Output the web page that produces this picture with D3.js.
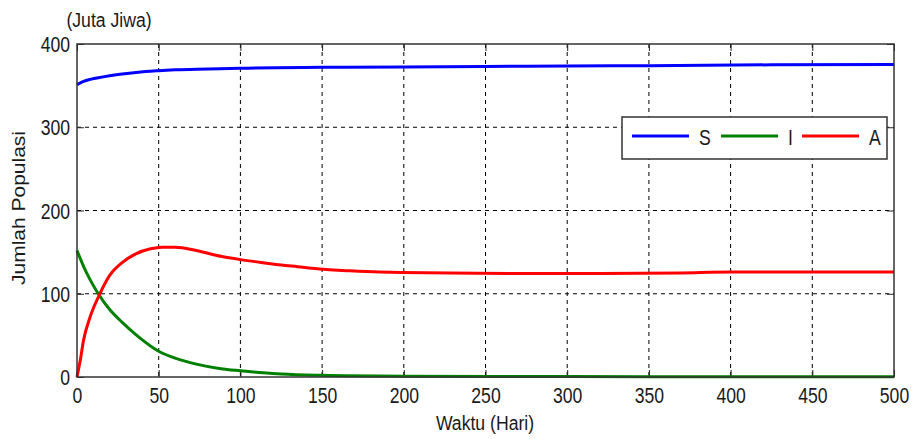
<!DOCTYPE html>
<meta charset="utf-8">
<script src="https://d3js.org/d3.v7.min.js"></script>
<style>
  body { margin: 0; background: #fff; }
  text { font-family: "Liberation Sans", Arial, sans-serif; fill: #1a1a1a; }
</style>
<div id="chart"></div>
<script>

// values (time in days, population in millions)
const sTime = [0, 4, 8, 16, 24, 32, 42, 50, 60, 80, 100, 150, 200, 250, 300, 350, 425, 500];
const sVals = [351, 355, 357.5, 360.5, 363, 365, 367, 368, 369, 370, 371, 372, 372.5, 373, 373.5, 374, 375, 375.5];

const iTime = [0, 4, 8, 13, 20, 28, 36, 50, 61, 73, 88, 100, 114, 125, 150, 200, 300, 400, 500];
const iVals = [152, 133, 117, 100, 81, 65, 51, 31, 22, 15.5, 10, 7.5, 5, 3.5, 2, 1, 0.5, 0.3, 0.2];

const aTime = [0, 2, 4, 8, 14, 20, 28, 36, 45, 52, 60, 73, 88, 100, 115, 125, 135, 147, 167, 185, 245, 320, 370, 400, 500];
const aVals = [0, 20, 44, 72, 100, 122, 138, 148, 154, 156, 156, 152, 145, 141, 137, 134.5, 132.5, 130, 127.5, 126, 124.5, 124.3, 125, 126, 126];

const xTicks = [0, 50, 100, 150, 200, 250, 300, 350, 400, 450, 500];
const yTicks = [0, 100, 200, 300, 400];

const series = [
  {name: "S", time: sTime, vals: sVals, color: "#0000ff"},
  {name: "I", time: iTime, vals: iVals, color: "#008000"},
  {name: "A", time: aTime, vals: aVals, color: "#ff0000"}
];

const W = 912, H = 439;
const margin = {top: 44, right: 18, bottom: 62, left: 77};
const width = W - margin.left - margin.right,
      height = H - margin.top - margin.bottom;

// the picture's text is squeezed sideways
const squeeze = 0.8;

const svg = d3.select("#chart").append("svg")
    .attr("width", W)
    .attr("height", H);

const g = svg.append("g")
    .attr("transform", `translate(${margin.left},${margin.top})`);

const x = d3.scaleLinear().domain([0, 500]).range([0, width]);
const y = d3.scaleLinear().domain([0, 400]).range([height, 0]);

// dashed grid
g.append("g").selectAll("line")
  .data(xTicks.slice(1, -1))
  .join("line")
    .attr("x1", d => x(d)).attr("x2", d => x(d))
    .attr("y1", 0).attr("y2", height)
    .attr("stroke", "#000").attr("stroke-width", 1)
    .attr("stroke-dasharray", "4,4");

g.append("g").selectAll("line")
  .data(yTicks.slice(1, -1))
  .join("line")
    .attr("y1", d => y(d)).attr("y2", d => y(d))
    .attr("x1", 0).attr("x2", width)
    .attr("stroke", "#000").attr("stroke-width", 1)
    .attr("stroke-dasharray", "4,4");

// axes with inward ticks (all four sides)
const tickLen = 7;
const xAxis = g.append("g")
    .attr("transform", `translate(0,${height})`)
    .call(d3.axisBottom(x).tickValues(xTicks).tickSize(-tickLen).tickPadding(10));
const yAxis = g.append("g")
    .call(d3.axisLeft(y).tickValues(yTicks).tickSize(-tickLen).tickPadding(7 / squeeze));
g.append("g")
    .call(d3.axisTop(x).tickValues(xTicks).tickSize(-tickLen).tickFormat(""));
g.append("g")
    .attr("transform", `translate(${width},0)`)
    .call(d3.axisRight(y).tickValues(yTicks).tickSize(-tickLen).tickFormat(""));

g.selectAll(".domain").remove();
g.selectAll(".tick line").attr("stroke", "#222");
xAxis.selectAll("text")
    .style("font-size", "22px").attr("fill", "#1a1a1a")
    .attr("transform", `scale(${squeeze},1)`);
yAxis.selectAll("text")
    .style("font-size", "22px").attr("fill", "#1a1a1a")
    .attr("dy", "0.35em")
    .attr("transform", `scale(${squeeze},1)`);

// the lines
const line = d3.line()
    .x(d => x(d[0]))
    .y(d => y(d[1]))
    .curve(d3.curveMonotoneX);

g.append("g").selectAll("path")
  .data(series)
  .join("path")
    .attr("d", s => line(s.time.map((t, i) => [t, s.vals[i]])))
    .attr("fill", "none")
    .attr("stroke", s => s.color)
    .attr("stroke-width", 3);

// frame
g.append("rect")
    .attr("width", width).attr("height", height)
    .attr("fill", "none")
    .attr("stroke", "#333").attr("stroke-width", 1.5);

// legend
const legend = svg.append("g").attr("transform", "translate(622,117)");
legend.append("rect")
    .attr("width", 265).attr("height", 42)
    .attr("fill", "#fff")
    .attr("stroke", "#333").attr("stroke-width", 1.5);

const legendX = [10, 99, 180];
series.forEach((s, i) => {
  const item = legend.append("g").attr("transform", `translate(${legendX[i]},0)`);
  item.append("line")
      .attr("x1", 0).attr("x2", 57)
      .attr("y1", 19).attr("y2", 19)
      .attr("stroke", s.color).attr("stroke-width", 3);
  item.append("text")
      .attr("transform", `translate(67,28) scale(${squeeze},1)`)
      .style("font-size", "22px")
      .text(s.name);
});

// labels
svg.append("text")
    .attr("transform", "translate(109,27) scale(0.84,1)")
    .attr("text-anchor", "middle")
    .style("font-size", "21px")
    .text("(Juta Jiwa)");

svg.append("text")
    .attr("transform", "translate(485,430) scale(0.84,1)")
    .attr("text-anchor", "middle")
    .style("font-size", "21px")
    .text("Waktu (Hari)");

svg.append("text")
    .attr("transform", "translate(25,208) rotate(-90) scale(1,0.84)")
    .attr("text-anchor", "middle")
    .style("font-size", "21px")
    .text("Jumlah Populasi");

</script>
